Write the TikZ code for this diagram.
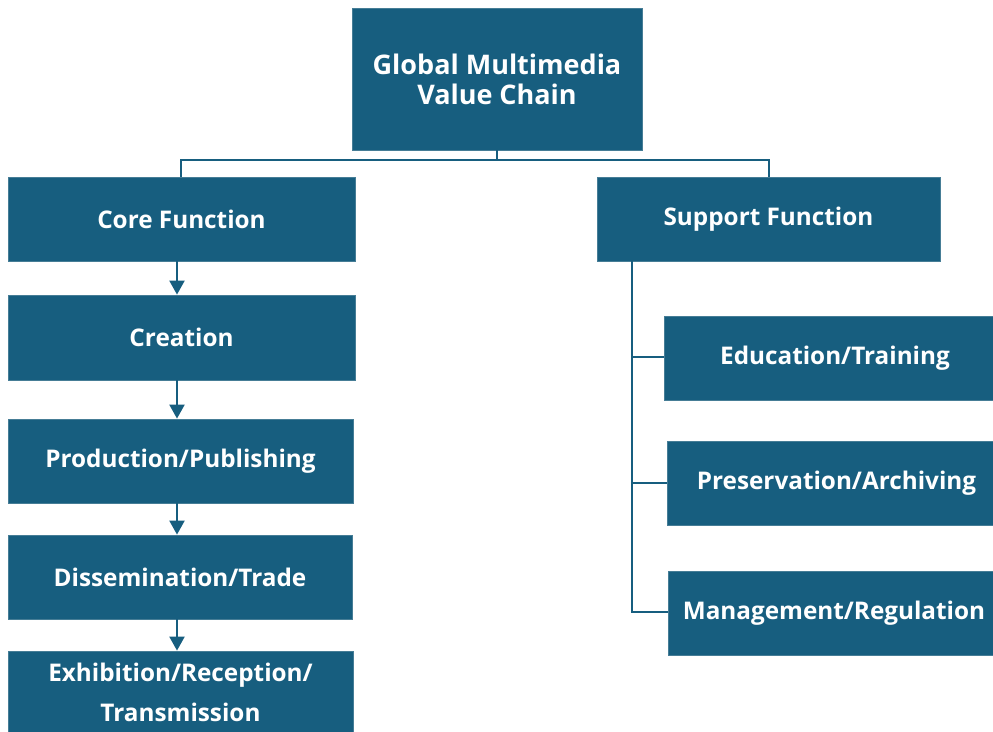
\documentclass[tikz,border=0pt]{standalone}
\usepackage{fontspec}
\setmainfont{Open Sans}
\usetikzlibrary{arrows.meta}
\definecolor{boxblue}{RGB}{23,94,127}
\definecolor{edgeblue}{RGB}{70,125,150}
\tikzset{
  box/.style={draw=edgeblue, line width=0.8pt, fill=boxblue, text=white, font=\bfseries\fontsize{24.3}{30}\selectfont, align=center, inner sep=0pt},
  conn/.style={draw=boxblue, line width=2.2pt},
  arr/.style={conn, -{Triangle[width=15pt,length=14pt]}}
}
\begin{document}
\begin{tikzpicture}[x=1pt,y=-1pt]
\useasboundingbox (0,0) rectangle (993,731);
\newcommand{\bx}[6]{\node[box, minimum width=#4-#2, minimum height=#5-#3] (#1) at ({(#2+#4)/2},{(#3+#5)/2}) {#6};}
\bx{top}{352}{8}{642}{150}{\fontsize{27}{33}\selectfont Global Multimedia\\\fontsize{27}{33}\selectfont Value Chain}
\bx{core}{8}{177}{355}{261}{Core Function}
\bx{supp}{597}{177}{940}{261}{\raisebox{-2pt}{Support Function}}
\bx{crea}{8}{295}{355}{380}{Creation}
\bx{prod}{8}{419}{353}{503}{Production/Publishing}
\bx{diss}{8}{535}{352}{619}{Dissemination/Trade}
\bx{exhi}{8}{651}{353}{733}{Exhibition/Reception/\\[10pt]Transmission}
\bx{educ}{664}{316}{1000}{400}{\hspace*{6pt}\raisebox{-2pt}{Education/Training}}
\bx{pres}{667}{441}{1000}{525}{\hspace*{6pt}\raisebox{-2pt}{Preservation/Archiving}}
\bx{mana}{668}{571}{1000}{655}{\raisebox{-2pt}{Management/Regulation}}
\coordinate (bus) at (497,160);
\coordinate (vt) at (632,261);
\draw[conn] (top.south) -- (bus);
\draw[conn] (core.north -| 181,0) |- (bus) -| (supp.north -| 769,0);
\draw[arr] (core.south -| 177,0) -- (crea.north -| 177,0);
\draw[arr] (crea.south -| 177,0) -- (prod.north -| 177,0);
\draw[arr] (prod.south -| 177,0) -- (diss.north -| 177,0);
\draw[arr] (diss.south -| 177,0) -- (exhi.north -| 177,0);
\draw[conn] (vt) |- (mana.west |- 0,612);
\draw[conn] (vt |- 0,357) -- (educ.west |- 0,357);
\draw[conn] (vt |- 0,483) -- (pres.west |- 0,483);
\end{tikzpicture}
\end{document}
